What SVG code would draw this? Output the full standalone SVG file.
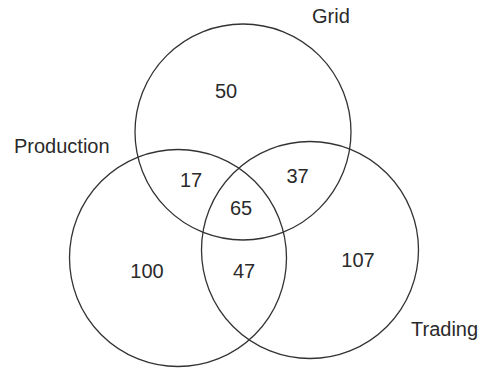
<svg xmlns="http://www.w3.org/2000/svg" width="483" height="369" viewBox="0 0 483 369">
<style>
.c{fill:none;stroke:#333;stroke-width:1.3}
text{font-family:"Liberation Sans",Arial,sans-serif;font-size:20px;fill:#2a2a2a}
.m{text-anchor:middle}
</style>
<rect width="483" height="369" fill="#fff"/>
<g id="grid"><circle class="c" cx="243" cy="132" r="108"/></g>
<g id="production"><circle class="c" cx="178" cy="258" r="108.5"/></g>
<g id="trading"><circle class="c" cx="310" cy="250" r="108.5"/></g>
<g id="labels">
<text x="312" y="23">Grid</text>
<text x="14" y="153">Production</text>
<text x="411" y="336">Trading</text>
<text class="m" x="226" y="98">50</text>
<text class="m" x="191" y="187">17</text>
<text class="m" x="297.5" y="183">37</text>
<text class="m" x="241" y="215">65</text>
<text class="m" x="147" y="278">100</text>
<text class="m" x="244" y="278">47</text>
<text class="m" x="358" y="267">107</text>
</g>
</svg>
